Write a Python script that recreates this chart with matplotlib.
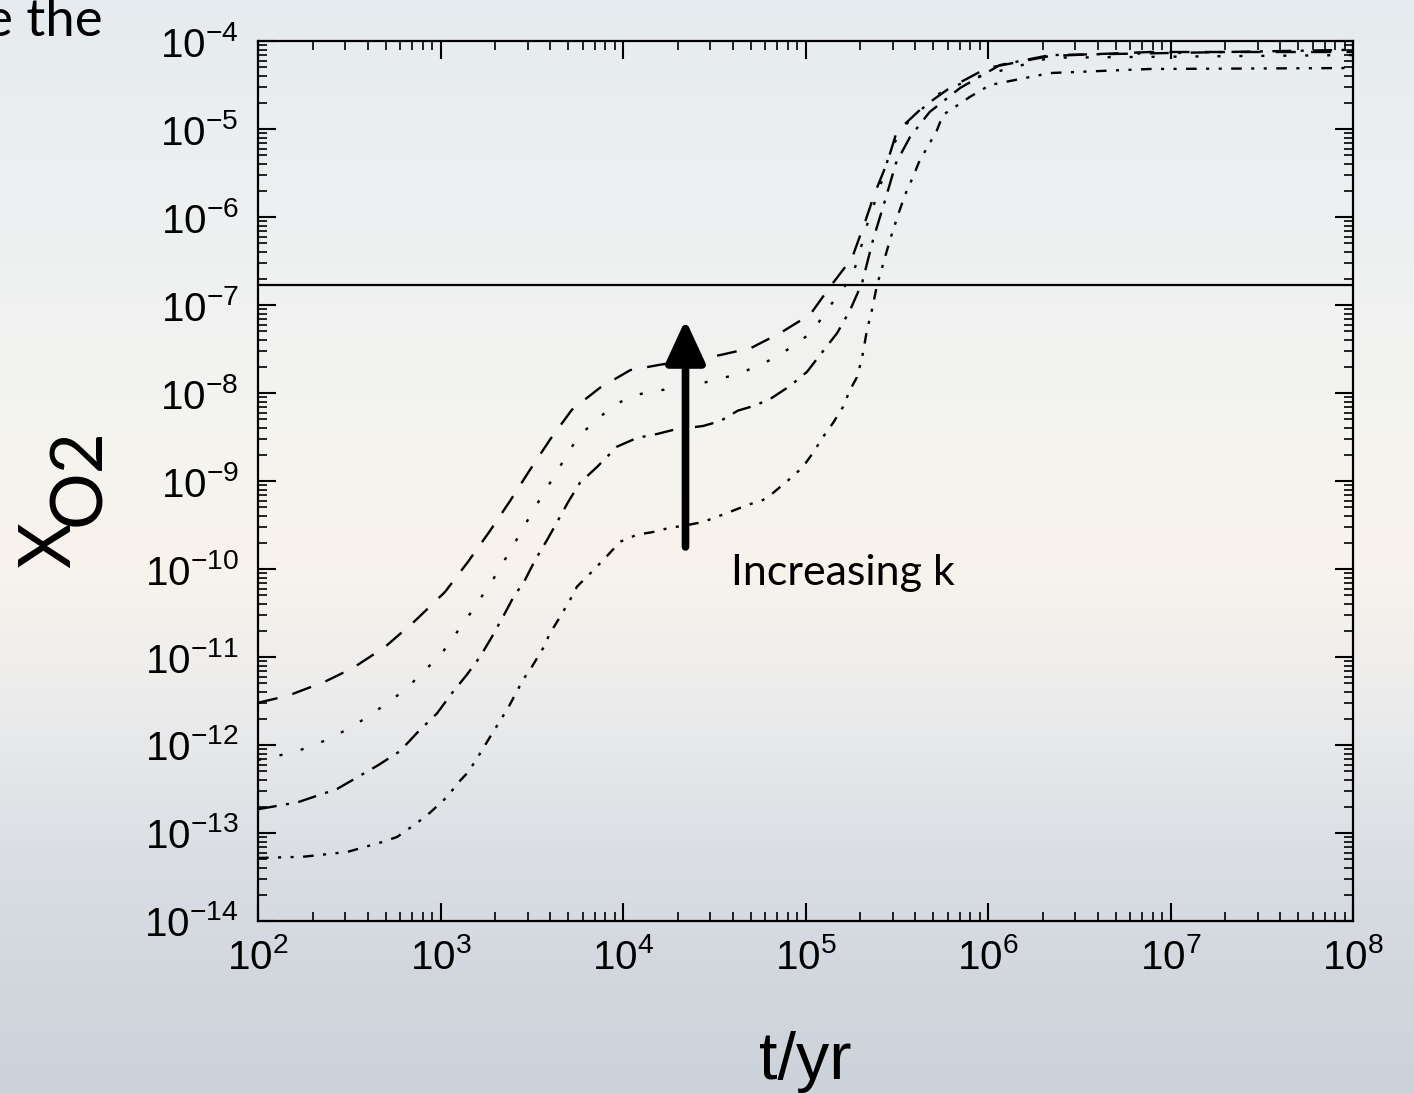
import numpy as np
import matplotlib
matplotlib.use("Agg")
import matplotlib.pyplot as plt
from matplotlib.ticker import FixedLocator, LogLocator, FuncFormatter, NullFormatter

plt.rcParams['font.family'] = ['Liberation Sans', 'DejaVu Sans']
plt.rcParams['mathtext.fontset'] = 'custom'
plt.rcParams['mathtext.rm'] = 'Liberation Sans'
plt.rcParams['mathtext.it'] = 'Liberation Sans:italic'

# curves: log10(t/yr) and log10(X_O2)
logt_a = [2.0, 2.164, 2.367, 2.52, 2.696, 2.86, 3.025, 3.15, 3.27, 3.38, 3.485, 3.60, 3.72,
          3.874, 4.04, 4.20, 4.37, 4.53, 4.70, 4.86, 5.025, 5.134, 5.255, 5.326, 5.38, 5.447,
          5.50, 5.644, 5.79, 5.995, 6.34, 6.89, 8.0]
logx_a = [-11.52, -11.44, -11.28, -11.125, -10.886, -10.59, -10.26, -9.92, -9.57, -9.23, -8.89,
          -8.53, -8.19, -7.94, -7.74, -7.68, -7.625, -7.57, -7.49, -7.32, -7.11, -6.795, -6.466,
          -6.057, -5.727, -5.386, -5.03, -4.75, -4.534, -4.307, -4.17, -4.125, -4.125]

logt_b = [2.0, 2.203, 2.405, 2.603, 2.805, 3.003, 3.145, 3.282, 3.397, 3.512, 3.633, 3.753,
          3.847, 3.945, 4.049, 4.148, 4.438, 4.64, 4.844, 5.036, 5.107, 5.178, 5.255, 5.288,
          5.342, 5.408, 5.463, 5.529, 5.72, 5.918, 6.34, 8.0]
logx_b = [-12.17, -12.08, -11.92, -11.68, -11.375, -10.97, -10.56, -10.14, -9.74, -9.32, -8.91,
          -8.5, -8.32, -8.15, -8.03, -7.99, -7.886, -7.78, -7.59, -7.31, -7.09, -6.886, -6.68,
          -6.466, -6.057, -5.66, -5.26, -4.99, -4.61, -4.42, -4.19, -4.16]

logt_c = [2.0, 2.219, 2.433, 2.658, 2.778, 2.877, 2.981, 3.063, 3.145, 3.216, 3.282, 3.342,
          3.397, 3.463, 3.518, 3.584, 3.638, 3.699, 3.764, 3.858, 3.967, 4.077, 4.186, 4.274,
          4.438, 4.532, 4.63, 4.712, 4.805, 4.915, 5.008, 5.079, 5.173, 5.244, 5.31, 5.37,
          5.436, 5.496, 5.573, 5.68, 5.847, 6.066, 6.34, 8.0]
logx_c = [-12.73, -12.65, -12.5, -12.23, -12.07, -11.85, -11.64, -11.41, -11.2, -11.0, -10.77,
          -10.545, -10.33, -10.125, -9.9, -9.67, -9.47, -9.24, -9.02, -8.84, -8.61, -8.51,
          -8.466, -8.42, -8.375, -8.32, -8.2, -8.15, -8.07, -7.92, -7.76, -7.57, -7.32, -7.06,
          -6.75, -6.26, -5.81, -5.386, -5.09, -4.807, -4.534, -4.273, -4.16, -4.10]

logt_d = [2.0, 2.247, 2.488, 2.685, 2.762, 2.871, 2.942, 3.036, 3.096, 3.151, 3.205, 3.271,
          3.37, 3.452, 3.501, 3.562, 3.60, 3.655, 3.71, 3.748, 3.83, 3.918, 3.984, 4.077, 4.164,
          4.258, 4.329, 4.438, 4.575, 4.685, 4.767, 4.822, 4.926, 4.986, 5.041, 5.096, 5.151,
          5.205, 5.244, 5.282, 5.31, 5.337, 5.364, 5.392, 5.419, 5.463, 5.507, 5.545, 5.589,
          5.627, 5.666, 5.721, 5.753, 5.819, 5.90, 6.011, 6.34, 6.888, 8.0]
logx_d = [-13.284, -13.27, -13.216, -13.10, -13.045, -12.886, -12.77, -12.59, -12.43, -12.31,
          -12.136, -11.91, -11.58, -11.26, -11.11, -10.9, -10.73, -10.545, -10.35, -10.2,
          -10.03, -9.84, -9.69, -9.61, -9.58, -9.53, -9.51, -9.466, -9.36, -9.27, -9.216,
          -9.136, -8.955, -8.84, -8.68, -8.5, -8.34, -8.16, -7.966, -7.82, -7.6, -7.284,
          -7.057, -6.773, -6.58, -6.26, -5.977, -5.75, -5.545, -5.35, -5.216, -5.01, -4.84,
          -4.75, -4.636, -4.5, -4.364, -4.318, -4.307]

threshold = 1.69e-7
arrow_t = 2.2e4
arrow_from = 1.78e-10
arrow_to = 6.8e-8

xticks = [1e2, 1e3, 1e4, 1e5, 1e6, 1e7, 1e8]
yticks = [10.0 ** e for e in range(-14, -3)]

W, H = 1414, 1093
fig = plt.figure(figsize=(W / 100, H / 100), dpi=100)

# slide-like background gradient
bg = fig.add_axes([0, 0, 1, 1], zorder=-10)
stops_y = [0, 100, 400, 560, 700, 850, 1000, 1093]
stops_c = np.array([(229, 235, 238), (234, 238, 240), (243, 243, 240), (248, 244, 236),
                    (236, 236, 236), (219, 223, 228), (208, 214, 220), (205, 211, 218)]) / 255.0
rows = np.arange(H)
grad = np.stack([np.interp(rows, stops_y, stops_c[:, k]) for k in range(3)], axis=1)
bg.imshow(grad[:, None, :].repeat(4, axis=1), aspect='auto', extent=[0, 1, 0, 1])
bg.axis('off')

ax = fig.add_axes([258 / W, 1 - 921 / H, (1353 - 258) / W, (921 - 41) / H])
ax.set_facecolor('none')
ax.set_xscale('log')
ax.set_yscale('log')
ax.set_xlim(1e2, 1e8)
ax.set_ylim(1e-14, 1e-4)

lw = 1.7
ax.plot(10 ** np.array(logt_a), 10 ** np.array(logx_a), color='black', lw=lw,
        linestyle=(0, (8.5, 6.5)))
ax.plot(10 ** np.array(logt_b), 10 ** np.array(logx_b), color='black', lw=lw,
        linestyle=(0, (1.3, 8)))
ax.plot(10 ** np.array(logt_c), 10 ** np.array(logx_c), color='black', lw=lw,
        linestyle=(0, (8, 4, 1.3, 4)))
ax.plot(10 ** np.array(logt_d), 10 ** np.array(logx_d), color='black', lw=lw,
        linestyle=(0, (4.5, 4, 1.3, 4, 1.3, 4)))
ax.axhline(threshold, color='black', lw=1.6)

ax.annotate('', xy=(arrow_t, arrow_to), xytext=(arrow_t, arrow_from),
            arrowprops=dict(arrowstyle='-|>,head_length=0.52,head_width=0.24',
                            mutation_scale=50, lw=5.5, color='black',
                            shrinkA=0, shrinkB=0))
ax.text(3.91e4, 9.0e-11, 'Increasing k', fontsize=31, family=['Lato', 'DejaVu Sans'],
        ha='left', va='center')

fmt = FuncFormatter(lambda v, p: r'$10^{%d}$' % int(round(np.log10(v))))
ax.xaxis.set_major_locator(FixedLocator(xticks))
ax.yaxis.set_major_locator(FixedLocator(yticks))
ax.xaxis.set_minor_locator(LogLocator(base=10, subs=np.arange(2, 10), numticks=50))
ax.yaxis.set_minor_locator(LogLocator(base=10, subs=np.arange(2, 10), numticks=50))
ax.xaxis.set_major_formatter(fmt)
ax.yaxis.set_major_formatter(fmt)
ax.xaxis.set_minor_formatter(NullFormatter())
ax.yaxis.set_minor_formatter(NullFormatter())
ax.tick_params(which='both', direction='in', top=True, right=True, labelsize=29, color='black')
ax.tick_params(which='major', length=13, width=1.5)
ax.tick_params(which='minor', length=6.5, width=1.2)
ax.tick_params(axis='x', which='major', pad=12)
ax.tick_params(axis='y', which='major', pad=14)
for s in ax.spines.values():
    s.set_linewidth(1.6)

fig.text(805 / W, 1 - 1062 / H, 't/yr', fontsize=48, ha='center', va='center')
fig.text(50 / W, 1 - 545 / H, 'X', fontsize=51, rotation=90, ha='center', va='center',
         family=['Lato', 'DejaVu Sans'])
fig.text(80 / W, 1 - 477 / H, 'O2', fontsize=51, rotation=90, ha='center', va='center',
         family=['Lato', 'DejaVu Sans'])
fig.text(103 / W, 1 - 22 / H, 'e the', fontsize=38, ha='right', va='center',
         family=['Lato', 'DejaVu Sans'])

fig.savefig('out.png', dpi=100)
